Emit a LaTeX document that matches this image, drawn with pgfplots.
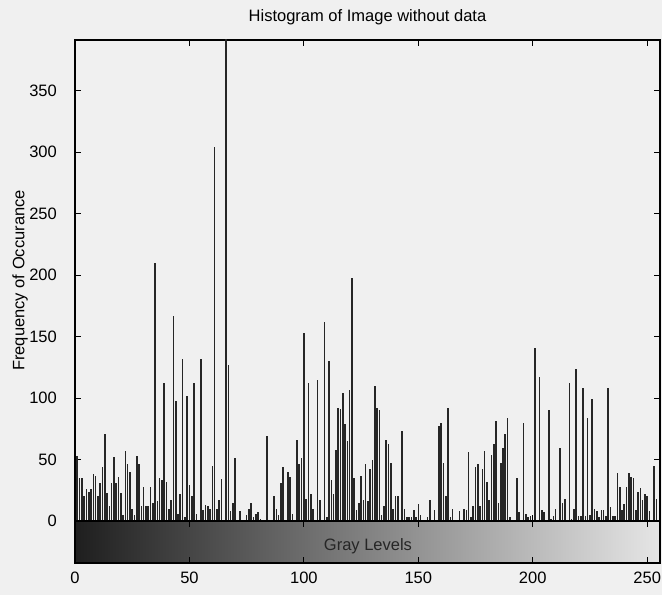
\documentclass[border=0pt]{standalone}
\usepackage{fontspec}
\setmainfont{Liberation Sans}
\usepackage{pgfplots}
\pgfplotsset{compat=1.18}

\newcommand{\fs}{\fontsize{16.5}{19}\selectfont}

\begin{document}
\begin{tikzpicture}
\path[fill=black!6, use as bounding box] (0,0) rectangle (662pt,595pt);

% histogram
\begin{axis}[
    at={(75pt,74pt)}, anchor=south west,
    width=585pt, height=481pt, scale only axis,
    xmin=0, xmax=255.6, ymin=0, ymax=391.4,
    xtick={0,50,...,250}, xticklabels={},
    ytick={0,50,...,350},
    major tick length=6pt,
    tick style={black, line width=0.9pt},
    axis line style={black, line width=1.1pt},
    /pgf/number format/assume math mode=true,
    tick label style={font=\fs},
    yticklabel style={anchor=east, inner sep=0pt, xshift=-18pt},
    ylabel={Frequency of Occurance},
    every axis y label/.style={at={(axis description cs:-0.094,0.5)}, rotate=90, anchor=center, font=\fs},
    title={Histogram of Image without data},
    every axis title/.style={at={(axis description cs:0.5,1)}, anchor=base, yshift=18.5pt, font=\fs},
]
\addplot[ycomb, black!85, line width=1.6pt, mark=none] coordinates {
(1,53) (2,35) (3,35) (4,20) (5,26) (6,24) (7,26) (8,38) (9,37) (10,20)
(11,31) (12,44) (13,71) (14,23) (15,12) (16,31) (17,52) (18,31) (19,36) (20,23)
(21,5) (22,57) (23,46) (24,40) (25,10) (26,5) (27,53) (28,46) (29,12) (30,28)
(31,12) (32,12) (33,28) (34,15) (35,210) (36,16) (37,35) (38,33) (39,112) (40,32)
(41,10) (42,17) (43,167) (44,98) (45,6) (46,22) (47,132) (48,3) (49,102) (50,29)
(51,20) (52,112) (53,6) (54,1) (55,132) (56,9) (57,13) (58,12) (59,10) (60,45)
(61,304) (62,10) (63,17) (64,34) (66,400) (67,127) (68,8) (69,15) (70,51)
(72,8) (73,1) (75,5) (76,10) (77,15) (78,3) (79,6) (80,7) (81,2)
(84,69) (87,20) (88,10) (89,5) (90,31) (91,44) (93,40) (94,36) (95,6)
(97,66) (98,46) (99,51) (100,153) (101,18) (102,112) (103,22) (104,10)
(106,115) (107,17) (109,162) (110,3) (111,130) (112,33) (113,22) (114,58) (115,92)
(116,91) (117,104) (118,79) (119,65) (120,107) (121,198) (122,35) (123,9) (124,15) (125,37)
(126,17) (127,46) (128,16) (129,42) (130,50) (131,110) (132,92) (133,90) (134,5) (135,12)
(136,66) (137,63) (138,47) (139,10) (140,20) (141,20) (143,73) (144,10) (145,3)
(146,3) (147,3) (148,9) (149,3) (150,14) (151,5) (154,3) (155,17)
(156,1) (157,9) (159,77) (160,80) (161,47) (162,20) (163,92) (164,3) (165,10)
(166,1) (167,1) (168,8) (169,1) (170,10) (171,9) (172,56) (173,3) (174,12) (175,44)
(176,46) (177,12) (178,42) (179,57) (180,32) (181,17) (182,54) (183,63) (184,81) (185,15)
(186,47) (187,59) (188,71) (189,84) (190,3) (191,1) (193,35) (194,7)
(196,80) (197,6) (198,3) (199,4) (201,141) (203,117) (204,9) (205,7)
(207,90) (208,2) (209,4) (210,10) (212,59) (213,15) (214,18)
(216,112) (217,2) (218,10) (219,124) (220,4) (221,4) (222,108) (223,4) (224,84) (225,5)
(226,99) (227,10) (228,8) (229,3) (230,9) (231,9) (232,4) (233,108) (234,11) (235,4)
(236,4) (237,39) (238,28) (239,9) (240,14) (241,28) (242,39) (243,36) (244,35) (245,9)
(246,24) (247,27) (248,17) (249,22) (250,20) (251,8) (253,45) (254,18)
};
\end{axis}

% gray level bar
\begin{axis}[
    at={(75pt,32pt)}, anchor=south west,
    width=585pt, height=42pt, scale only axis,
    xmin=0, xmax=255.6, ymin=0, ymax=1,
    xtick={0,50,...,250}, ytick=\empty,
    major tick length=6pt,
    tick style={black, line width=0.9pt},
    axis line style={black, line width=1.1pt},
    axis on top,
    /pgf/number format/assume math mode=true,
    tick label style={font=\fs},
    xticklabel style={anchor=base, yshift=-20pt},
]
\fill[left color=black!88, right color=black!10] (axis cs:0,0) rectangle (axis cs:255.6,1);
\node[font=\fs, black!85] at (axis cs:128,0.4) {Gray Levels};
\end{axis}
\end{tikzpicture}
\end{document}
